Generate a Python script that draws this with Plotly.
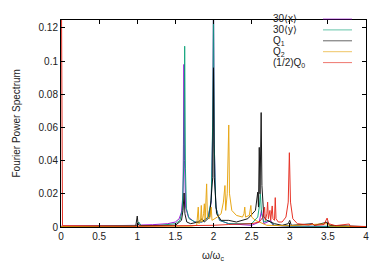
import plotly.graph_objects as go

# ---- data ----
x_30x = [0, 0.9, 1.0, 1.02, 1.05, 1.2, 1.4, 1.5, 1.55, 1.58, 1.6, 1.606, 1.612, 1.62, 1.635, 1.67, 1.75,
         1.85, 1.93, 1.97, 1.99, 2.0, 2.01, 2.03, 2.08, 2.2, 2.5, 2.6, 2.63, 2.66, 2.75, 2.78, 3.0, 4.0]
y_30x = [0.0005, 0.0008, 0.001, 0.002, 0.0012, 0.0014, 0.002, 0.003, 0.005, 0.009, 0.02, 0.05, 0.098, 0.04,
         0.012, 0.006, 0.003, 0.003, 0.006, 0.015, 0.06, 0.14, 0.05, 0.012, 0.004, 0.002, 0.001, 0.003, 0.01,
         0.002, 0.004, 0.001, 0.0005, 0.0003]

x_30y = [0, 0.9, 1.0, 1.02, 1.05, 1.3, 1.5, 1.56, 1.59, 1.612, 1.622, 1.632, 1.645, 1.68, 1.76, 1.85, 1.93,
         1.97, 1.99, 2.0, 2.01, 2.03, 2.08, 2.2, 2.5, 2.58, 2.6, 2.615, 2.63, 2.66, 2.72, 2.8, 3.0, 4.0]
y_30y = [0.0003, 0.0005, 0.0008, 0.003, 0.0008, 0.001, 0.002, 0.004, 0.01, 0.04, 0.109, 0.035, 0.011,
         0.005, 0.003, 0.003, 0.006, 0.016, 0.065, 0.14, 0.05, 0.012, 0.004, 0.002, 0.002, 0.006, 0.012,
         0.02, 0.008, 0.003, 0.004, 0.001, 0.0005, 0.0002]

x_q1 = [0, 0.98, 1.0, 1.01, 1.03, 1.5, 1.58, 1.6, 1.615, 1.625, 1.65, 1.7, 1.8, 1.85, 1.88, 1.95, 1.99,
        2.0, 2.01, 2.04, 2.1, 2.2, 2.3, 2.45, 2.55, 2.58, 2.59, 2.6, 2.61, 2.625, 2.635, 2.65, 2.66, 2.7,
        2.8, 2.9, 2.98, 3.0, 3.02, 3.3, 3.32, 3.5, 3.52, 4.0]
y_q1 = [0.0003, 0.0005, 0.0066, 0.002, 0.0008, 0.001, 0.004, 0.01, 0.0205, 0.008, 0.003, 0.002, 0.003,
        0.005, 0.003, 0.006, 0.03, 0.096, 0.03, 0.008, 0.004, 0.004, 0.003, 0.005, 0.01, 0.021, 0.012,
        0.048, 0.02, 0.069, 0.025, 0.015, 0.006, 0.004, 0.002, 0.001, 0.002, 0.004, 0.001, 0.002, 0.001,
        0.003, 0.001, 0.0002]

x_q2 = [0, 1.7, 1.78, 1.8, 1.81, 1.83, 1.84, 1.85, 1.87, 1.88, 1.89, 1.91, 1.92, 1.95, 1.97, 1.98, 2.05,
        2.1, 2.13, 2.15, 2.16, 2.18, 2.2, 2.21, 2.24, 2.3, 2.38, 2.4, 2.41, 2.42, 2.47, 2.49, 2.5, 2.55,
        2.6, 2.7, 3.0, 3.5, 3.52, 4.0]
y_q2 = [0.0003, 0.0005, 0.001, 0.012, 0.002, 0.004, 0.013, 0.003, 0.008, 0.014, 0.004, 0.026, 0.006,
        0.005, 0.012, 0.004, 0.006, 0.008, 0.015, 0.025, 0.01, 0.02, 0.0615, 0.02, 0.01, 0.007, 0.006,
        0.008, 0.012, 0.006, 0.007, 0.013, 0.006, 0.004, 0.003, 0.001, 0.0008, 0.002, 0.0005, 0.0002]

x_q0 = [0, 0.02, 1.0, 1.8, 2.0, 2.2, 2.5, 2.6, 2.65, 2.67, 2.68, 2.7, 2.71, 2.72, 2.74, 2.75, 2.77, 2.78,
        2.8, 2.81, 2.82, 2.85, 2.9, 2.95, 2.98, 2.995, 3.01, 3.04, 3.1, 3.25, 3.3, 3.32, 3.45, 3.49, 3.51,
        3.6, 3.78, 3.79, 4.0]
y_q0 = [0.2, 0.0008, 0.0005, 0.0008, 0.001, 0.0015, 0.002, 0.003, 0.006, 0.012, 0.004, 0.008, 0.015,
        0.005, 0.01, 0.004, 0.0127, 0.005, 0.004, 0.0177, 0.005, 0.003, 0.003, 0.006, 0.015, 0.0448, 0.015,
        0.005, 0.002, 0.0012, 0.002, 0.001, 0.0015, 0.0054, 0.002, 0.0008, 0.0018, 0.0005, 0.0003]

names = ["30⟨x⟩", "30⟨y⟩", "Q<sub>1</sub>", "Q<sub>2</sub>", "(1/2)Q<sub>0</sub>"]
colors = ["#9400D3", "#009E73", "#000000", "#E69F00", "#E51E10"]
xs = [x_30x, x_30y, x_q1, x_q2, x_q0]
ys = [y_30x, y_30y, y_q1, y_q2, y_q0]

x_ticks = [0, 0.5, 1, 1.5, 2, 2.5, 3, 3.5, 4]
y_ticks = [0, 0.02, 0.04, 0.06, 0.08, 0.1, 0.12]

# ---- figure (page body has an 8px margin) ----
OFF = 8
W, H = 390 - OFF, 273 - OFF
PX0, PX1, PY0, PY1 = 61, 366, 20, 227   # plot area in page pixels
L, R = PX0 - OFF, 390 - PX1
T, B = PY0 - OFF, 273 - PY1
pw, ph = PX1 - PX0, PY1 - PY0

def px(x):
    return (x - PX0) / pw

def py(y):
    return (PY1 - y) / ph

fig = go.Figure()
for x, y, n, c in zip(xs, ys, names, colors):
    fig.add_trace(go.Scatter(x=x, y=y, mode="lines", name=n, showlegend=False,
                             line=dict(color=c, width=1), opacity=0.9))

font = dict(family="Liberation Sans, Arial, sans-serif", size=10, color="#222")

# legend drawn like gnuplot's key: text then line sample
for i, (n, c) in enumerate(zip(names, colors)):
    yy = py(19 + i * 10.9)
    fig.add_annotation(x=px(271), y=yy, xref="paper", yref="paper", text=n,
                       showarrow=False, xanchor="left", yanchor="middle", font=font)
    fig.add_shape(type="line", xref="paper", yref="paper",
                  x0=px(323), x1=px(352), y0=yy, y1=yy,
                  line=dict(color=c, width=1), opacity=0.6)

# axis titles
fig.add_annotation(x=px(213), y=py(256), xref="paper", yref="paper",
                   text="ω/ω<sub>c</sub>", showarrow=False, xanchor="center", yanchor="middle",
                   font=font)
fig.add_annotation(x=px(16), y=0.5, xref="paper", yref="paper",
                   text="Fourier Power Spectrum", showarrow=False, textangle=-90,
                   xanchor="center", yanchor="middle", font=font)

axis_common = dict(showline=True, linecolor="black", linewidth=1, mirror="ticks",
                   ticks="inside", ticklen=4, tickcolor="black", showgrid=False,
                   zeroline=False, tickfont=font, automargin=False)

fig.update_layout(
    width=W, height=H,
    margin=dict(l=L, r=R, t=T, b=B),
    plot_bgcolor="white", paper_bgcolor="white",
    font=font,
    xaxis=dict(range=[0, 4], tickvals=x_ticks, ticktext=[f"{v:g}" for v in x_ticks], **axis_common),
    yaxis=dict(range=[0, 0.1248], tickvals=y_ticks, ticktext=[f"{v:g}" for v in y_ticks], **axis_common),
)

fig.write_html("out.html")
